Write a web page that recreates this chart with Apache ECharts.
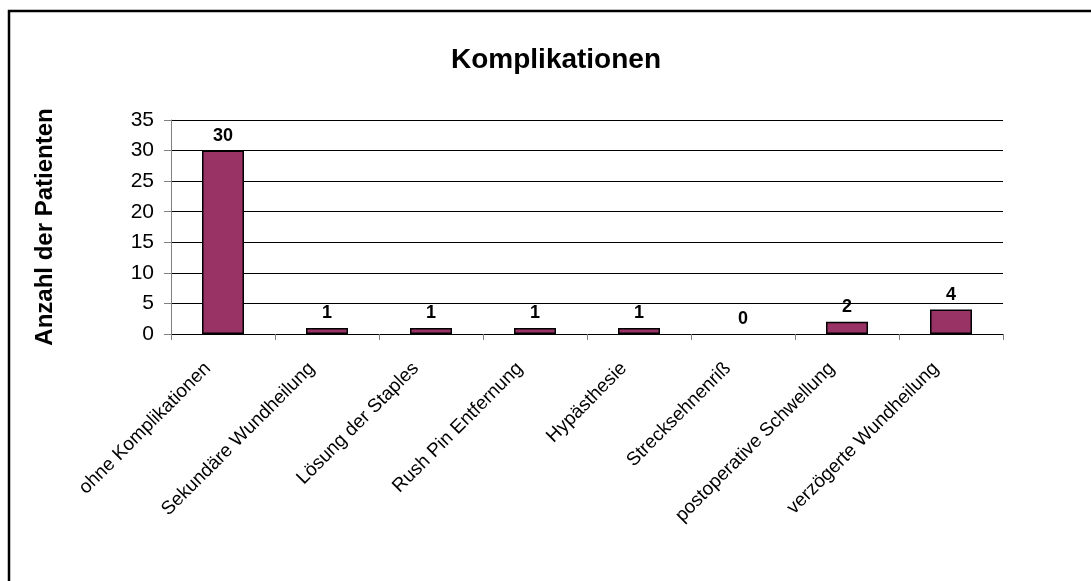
<!DOCTYPE html>
<html>
<head>
<meta charset="utf-8">
<script src="https://cdn.jsdelivr.net/npm/echarts@6/dist/echarts.min.js"></script>
<style>
  html, body { margin: 0; padding: 0; background: #fff; }
  #chart { width: 1091px; height: 581px; }
</style>
</head>
<body>
<div id="chart"></div>
<script>
// Categories of complications and the number of patients in each
const categories = [
  'ohne Komplikationen',
  'Sekundäre Wundheilung',
  'Lösung der Staples',
  'Rush Pin Entfernung',
  'Hypästhesie',
  'Strecksehnenriß',
  'postoperative Schwellung',
  'verzögerte Wundheilung'
];
const patientCounts = [30, 1, 1, 1, 1, 0, 2, 4];
const chartTitle = 'Komplikationen';
const yAxisTitle = 'Anzahl der Patienten';

const FONT = 'Liberation Sans, Arial, sans-serif';

// a zero-height bar gets no outline, so nothing is drawn for it
const barData = patientCounts.map(v =>
  v === 0 ? { value: v, itemStyle: { borderWidth: 0 } } : v
);

const chart = echarts.init(document.getElementById('chart'), null, { renderer: 'canvas' });

chart.setOption({
  backgroundColor: '#ffffff',
  animation: false,
  title: {
    text: chartTitle,
    left: 551,
    top: 41,
    textAlign: 'center',
    textStyle: { fontFamily: FONT, fontSize: 28, fontWeight: 'bold', color: '#000' }
  },
  graphic: [{
    type: 'rect',
    shape: { x: 9, y: 11, width: 1200, height: 700 },
    style: { fill: 'none', stroke: '#000', lineWidth: 2.5 },
    silent: true
  }],
  grid: { left: 171, right: 88, top: 120, bottom: 247, containLabel: false },
  xAxis: {
    type: 'category',
    data: categories,
    boundaryGap: true,
    axisLine: { show: true, lineStyle: { color: '#000', width: 1 } },
    axisTick: { show: true, alignWithLabel: false, length: 6, lineStyle: { color: '#808080' } },
    axisLabel: {
      interval: 0,
      rotate: 45,
      margin: 3,
      verticalAlign: 'top',
      padding: [0, 31, 0, 0],
      fontFamily: FONT,
      fontSize: 19,
      color: '#000'
    }
  },
  yAxis: {
    type: 'value',
    min: 0,
    max: 35,
    interval: 5,
    name: yAxisTitle,
    nameLocation: 'middle',
    nameRotate: 90,
    nameGap: 114,
    nameTextStyle: { fontFamily: FONT, fontSize: 24, fontWeight: 'bold', color: '#000' },
    axisLine: { show: true, lineStyle: { color: '#808080', width: 1 } },
    axisTick: { show: true, length: 7, lineStyle: { color: '#808080' } },
    axisLabel: { fontFamily: FONT, fontSize: 21, color: '#000', margin: 17 },
    splitLine: { show: true, lineStyle: { color: '#000', width: 1 } }
  },
  series: [{
    type: 'bar',
    data: barData,
    barWidth: 42,
    itemStyle: { color: '#993366', borderColor: '#000', borderWidth: 1.5 },
    label: {
      show: true,
      position: 'top',
      distance: 6,
      fontFamily: FONT,
      fontSize: 18,
      fontWeight: 'bold',
      color: '#000'
    }
  }]
});
</script>
</body>
</html>
